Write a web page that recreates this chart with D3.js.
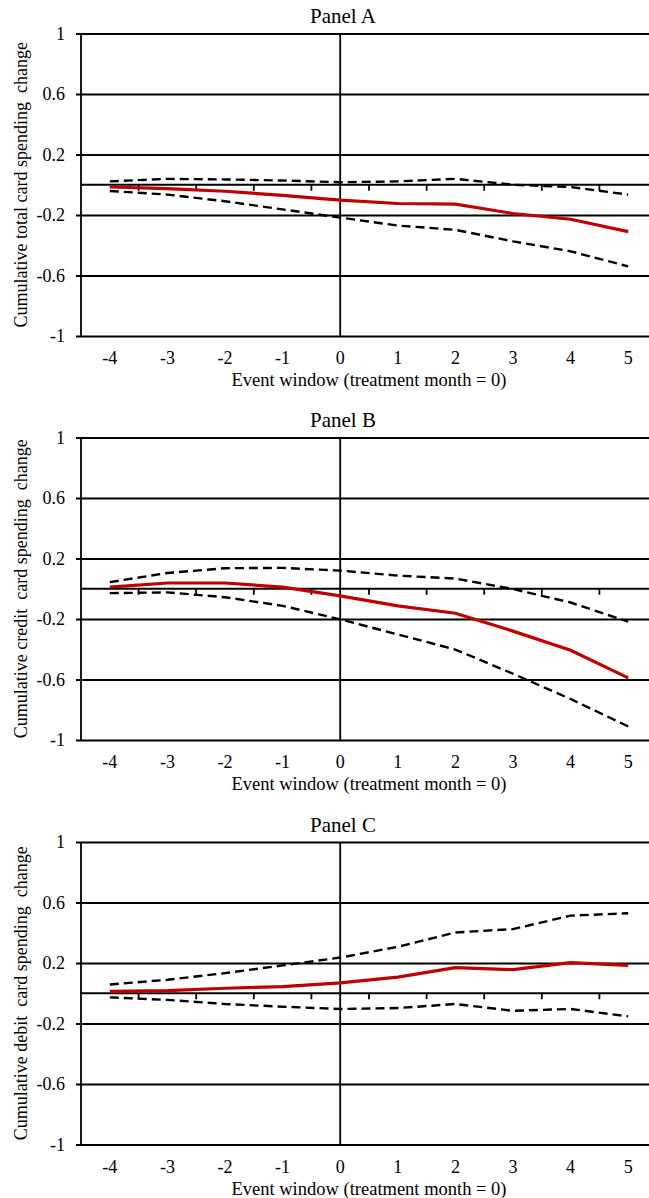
<!DOCTYPE html>
<html>
<head>
<meta charset="utf-8">
<script src="https://cdn.jsdelivr.net/npm/d3@7"></script>
<style>
  body { margin: 0; background: #fff; }
  text { font-family: "Liberation Serif", "Times New Roman", serif; fill: #000; }
</style>
</head>
<body>
<script>
// event window months
var months = [-4, -3, -2, -1, 0, 1, 2, 3, 4, 5];
var monthLabels = ["-4", "-3", "-2", "-1", "0", "1", "2", "3", "4", "5"];

// y ticks
var yTicks = [1, 0.6, 0.2, -0.2, -0.6, -1];
var yTickLabels = ["1", "0.6", "0.2", "-0.2", "-0.6", "-1"];

var panelTitles = ["Panel A", "Panel B", "Panel C"];
var yTitles = ["Cumulative total card spending  change",
               "Cumulative credit  card spending  change",
               "Cumulative debit  card spending  change"];
var xTitle = "Event window (treatment month = 0)";

// Panel A: total card spending
var estA  = [-0.015, -0.026, -0.043, -0.070, -0.102, -0.124, -0.128, -0.190, -0.228, -0.310];
var highA = [0.022, 0.039, 0.035, 0.028, 0.017, 0.022, 0.039, 0.000, -0.015, -0.065];
var lowA  = [-0.041, -0.065, -0.109, -0.163, -0.217, -0.270, -0.298, -0.374, -0.440, -0.540];

// Panel B: credit card spending
var estB  = [0.011, 0.038, 0.038, 0.011, -0.047, -0.113, -0.162, -0.280, -0.407, -0.589];
var highB = [0.044, 0.104, 0.136, 0.138, 0.120, 0.087, 0.067, -0.002, -0.091, -0.218];
var lowB  = [-0.029, -0.024, -0.056, -0.113, -0.202, -0.302, -0.402, -0.562, -0.729, -0.910];

// Panel C: debit card spending
var estC  = [0.013, 0.018, 0.033, 0.044, 0.069, 0.107, 0.169, 0.156, 0.202, 0.184];
var highC = [0.058, 0.089, 0.133, 0.184, 0.236, 0.307, 0.402, 0.424, 0.513, 0.529];
var lowC  = [-0.027, -0.044, -0.071, -0.089, -0.104, -0.098, -0.071, -0.116, -0.104, -0.153];

var panels = [
  {est: estA, high: highA, low: lowA},
  {est: estB, high: highB, low: lowB},
  {est: estC, high: highC, low: lowC}
];

var width = 649, height = 1198;
var panelTops = [33.5, 437.5, 842];
var plotH = 302.5;
var left = 81, right = 657;

var svg = d3.select("body").append("svg").attr("width", width).attr("height", height);

var x = d3.scalePoint().domain(months).range([left, right]).padding(0.5);
var step = x.step();

panels.forEach(function(p, i){
  var top = panelTops[i];
  var y = d3.scaleLinear().domain([-1, 1]).range([top + plotH, top]);
  var g = svg.append("g");

  // title
  g.append("text").attr("x", 343).attr("y", top - 10.5)
    .attr("text-anchor", "middle").style("font-size", "21px").text(panelTitles[i]);

  // gridlines + y labels via axis
  var yAxis = d3.axisLeft(y).tickValues(yTicks)
    .tickSize(-(right - left)).tickSizeOuter(0)
    .tickFormat(function(d, k){ return yTickLabels[k]; });
  var ya = g.append("g").attr("transform", "translate(" + left + ",0)").call(yAxis);
  ya.select(".domain").remove();
  ya.selectAll(".tick line").attr("x1", -5).attr("stroke", "#000").attr("stroke-width", 1.8);
  ya.selectAll(".tick text").attr("x", -16).style("font-size", "18px")
    .style("font-family", "Liberation Serif, serif");

  // left axis line
  g.append("line").attr("x1", left).attr("x2", left).attr("y1", y(1)).attr("y2", y(-1))
    .attr("stroke", "#000").attr("stroke-width", 1.8);

  // vertical line at month 0
  g.append("line").attr("x1", x(0)).attr("x2", x(0)).attr("y1", y(1)).attr("y2", y(-1))
    .attr("stroke", "#000").attr("stroke-width", 1.8);

  // horizontal axis at zero with ticks between categories
  var xa = g.append("g").attr("transform", "translate(0," + y(0) + ")");
  xa.append("line").attr("x1", left).attr("x2", right).attr("stroke", "#000").attr("stroke-width", 1.8);
  xa.selectAll(".tk").data(months.slice(0, -1)).enter().append("line")
    .attr("x1", function(d){ return x(d) + step / 2; })
    .attr("x2", function(d){ return x(d) + step / 2; })
    .attr("y1", 0).attr("y2", 6).attr("stroke", "#000").attr("stroke-width", 1.8);

  // x tick labels at bottom
  g.selectAll(".xl").data(months).enter().append("text")
    .attr("x", function(d){ return x(d); })
    .attr("y", top + plotH + 28)
    .attr("text-anchor", "middle").style("font-size", "18px")
    .text(function(d, k){ return monthLabels[k]; });

  // x axis title
  g.append("text").attr("x", 369).attr("y", top + plotH + 50)
    .attr("text-anchor", "middle").style("font-size", "18.5px").text(xTitle);

  // y axis title
  g.append("text")
    .attr("transform", "translate(23," + (top + plotH / 2) + ") rotate(-90)")
    .attr("text-anchor", "middle").attr("dominant-baseline", "middle")
    .style("font-size", "18px").style("white-space", "pre").text(yTitles[i]);

  var line = d3.line()
    .x(function(d, k){ return x(months[k]); })
    .y(function(d){ return y(d); });

  g.append("path").attr("d", line(p.high)).attr("fill", "none")
    .attr("stroke", "#000").attr("stroke-width", 2.4).attr("stroke-dasharray", "9,5");
  g.append("path").attr("d", line(p.low)).attr("fill", "none")
    .attr("stroke", "#000").attr("stroke-width", 2.4).attr("stroke-dasharray", "9,5");
  g.append("path").attr("d", line(p.est)).attr("fill", "none")
    .attr("stroke", "#c00000").attr("stroke-width", 3.2);
});
</script>
</body>
</html>
